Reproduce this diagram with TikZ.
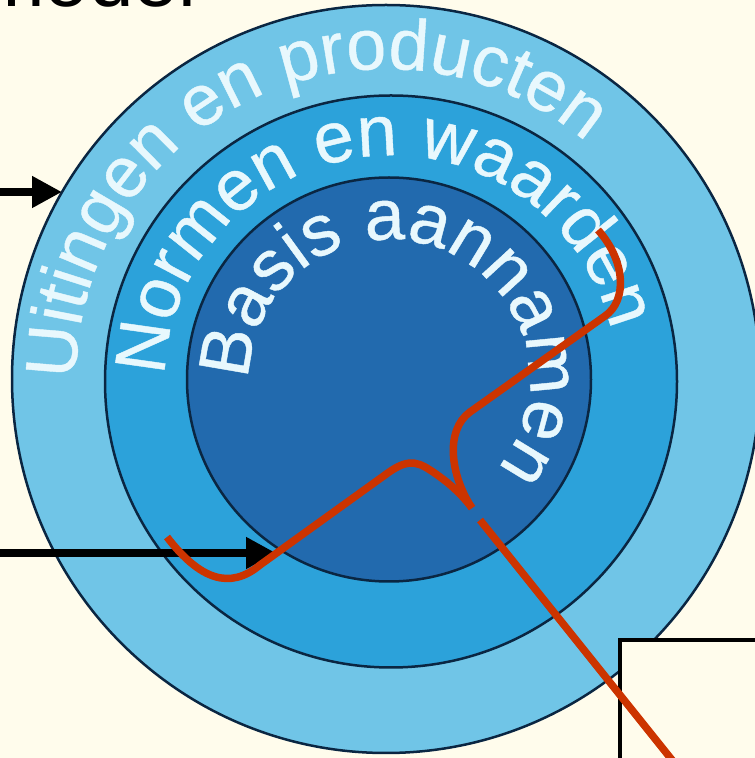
\documentclass[tikz,border=0pt]{standalone}
\usepackage{fontspec}
\setmainfont{Liberation Sans}
\newfontfamily\ringfont[FakeBold=0.6]{Liberation Sans}
\usetikzlibrary{decorations.text,arrows.meta}
\definecolor{bg}{RGB}{255,252,236}
\definecolor{ringA}{RGB}{112,197,231}
\definecolor{ringB}{RGB}{44,162,218}
\definecolor{ringC}{RGB}{34,106,174}
\definecolor{edge}{RGB}{10,38,66}
\definecolor{ringtext}{RGB}{232,248,253}
\definecolor{redline}{RGB}{204,52,0}
\tikzset{
  ring/.style={draw=edge, line width=2.5pt},
  ringlabel/.style={decorate, decoration={text along path, text align=left, text color=ringtext, text={|\ringfont\fontsize{72}{80}\selectfont|#1}}},
  arrowline/.style={line width=8pt, -{Triangle[length=30pt, width=30pt]}},
  redpath/.style={draw=redline, line width=7.5pt},
  boxline/.style={draw=black, line width=4pt, fill=bg}
}
\begin{document}
\begin{tikzpicture}[x=1pt,y=1pt]
\useasboundingbox (0,0) rectangle (755,758);
\clip (0,0) rectangle (755,758);
\fill[bg] (0,0) rectangle (755,758);
\node[anchor=base west, inner sep=0pt, font=\fontsize{80}{90}\selectfont] (title) at (-22,751) {model};
% rings
\coordinate (cA) at (386,379);
\coordinate (cB) at (391,376.5);
\coordinate (cC) at (389,378.5);
\draw[ring, fill=ringA] (cA) circle[radius=374];
\draw[ring, fill=ringB] (cB) circle[radius=286];
\draw[ring, fill=ringC] (cC) circle[radius=202];
\path[ringlabel={Uitingen en producten}] ([shift={(180:310)}]cA) arc[start angle=180, end angle=-60, radius=310];
\path[ringlabel={Normen en waarden}] ([shift={(178.5:226)}]cB) arc[start angle=178.5, end angle=-90, radius=226];
\path[ringlabel={Basis aannamen}] ([shift={(180:140)}]cC) arc[start angle=180, end angle=-120, radius=140];
\begin{scope}[shift={(0,758)}, yscale=-1]
  \draw[boxline] (620,640) rectangle (800,800);
  \coordinate (a1s) at (-5,192);
  \coordinate (a1e) at (62,192);
  \coordinate (a2s) at (-5,553);
  \coordinate (a2e) at (276,553);
  \draw[arrowline] (a1s) -- (a1e);
  \draw[arrowline] (a2s) -- (a2e);
  \coordinate (r1) at (167,537);
  \coordinate (r2) at (260,565);
  \coordinate (r3) at (385,475);
  \coordinate (r4) at (430,470);
  \coordinate (rj) at (472,508);
  \coordinate (u1) at (598,230);
  \coordinate (u2) at (605,316);
  \coordinate (u3) at (470,412);
  \coordinate (s1) at (480,520);
  \coordinate (s2) at (700,795);
  \draw[redpath] (r1) .. controls (200,580) and (230,590) .. (r2) -- (r3)
     .. controls (405,460) and (415,460) .. (r4) .. controls (450,483) and (462,495) .. (rj);
  \draw[redpath] (u1) .. controls (625,260) and (628,300) .. (u2) -- (u3)
     .. controls (445,430) and (450,475) .. (rj);
  \draw[redpath] (s1) -- (s2);
\end{scope}
\end{tikzpicture}
\end{document}
